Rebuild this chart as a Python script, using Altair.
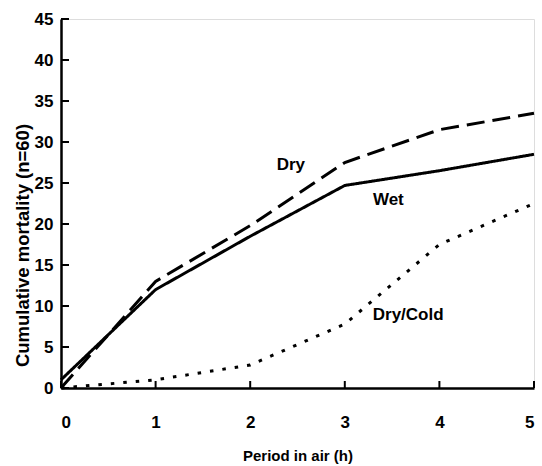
import altair as alt
import pandas as pd

# Hours out of water and cumulative deaths per treatment
hours = [0, 1, 2, 3, 4, 5]
wet = [1.0, 12.0, 18.5, 24.7, 26.5, 28.5]
dry = [0.0, 13.0, 19.8, 27.5, 31.5, 33.5]
dry_cold = [0.0, 1.0, 2.8, 7.8, 17.5, 22.5]

series_names = ["Wet", "Dry", "Dry/Cold"]
label_x = [3.46, 2.43, 3.67]
label_y = [22.9, 27.2, 8.9]

y_ticks = list(range(0, 46, 5))
x_ticks = hours

FONT = "Liberation Sans, Arial, sans-serif"
W, H = 473, 369

rows = []
for name, vals in zip(series_names, [wet, dry, dry_cold]):
    for h, v in zip(hours, vals):
        rows.append({"hours": h, "deaths": v, "series": name})
df = pd.DataFrame(rows)

labels = pd.DataFrame({"series": series_names, "x": label_x, "y": label_y})

xs = alt.Scale(domain=[0, 5], nice=False)
ys = alt.Scale(domain=[0, 45], nice=False)

x_axis = alt.Axis(
    values=x_ticks, format="d", ticks=False, grid=False, domainColor="black",
    domainWidth=2.5, labelFont=FONT, labelFontSize=17, labelFontWeight="bold",
    labelColor="black", labelPadding=26, title="Period in air (h)", titleFont=FONT,
    titleFontSize=15, titleFontWeight="bold", titleColor="black", titlePadding=18,
)
y_axis = alt.Axis(
    values=y_ticks, format="d", ticks=False, grid=False, domainColor="black",
    domainWidth=2.5, labelFont=FONT, labelFontSize=17, labelFontWeight="bold",
    labelColor="black", labelPadding=8, title="Cumulative mortality (n=60)",
    titleFont=FONT, titleFontSize=18.5, titleFontWeight="bold", titleColor="black",
    titleY=226, titlePadding=2,
)

lines = alt.Chart(df).mark_line(strokeWidth=3, color="black").encode(
    x=alt.X("hours:Q", scale=xs, axis=x_axis),
    y=alt.Y("deaths:Q", scale=ys, axis=y_axis),
    detail="series:N",
    strokeDash=alt.StrokeDash(
        "series:N",
        scale=alt.Scale(domain=series_names, range=[[1, 0], [18, 8], [3.5, 9]]),
        legend=None,
    ),
)

text = alt.Chart(labels).mark_text(
    font=FONT, fontSize=17, fontWeight="bold", color="black", align="center", baseline="middle"
).encode(
    x=alt.X("x:Q", scale=xs),
    y=alt.Y("y:Q", scale=ys),
    text="series:N",
)

# inward-pointing tick marks drawn from the tick value lists
ytick_df = pd.DataFrame({"v": y_ticks})
xtick_df = pd.DataFrame({"v": x_ticks})
yt = alt.Chart(ytick_df).mark_rule(color="black", strokeWidth=2).encode(
    y=alt.Y("v:Q", scale=ys), x=alt.value(0), x2=alt.value(8)
)
xt = alt.Chart(xtick_df).mark_rule(color="black", strokeWidth=2).encode(
    x=alt.X("v:Q", scale=xs), y=alt.value(H), y2=alt.value(H - 7)
)

chart = alt.layer(lines, text, yt, xt).properties(
    width=W, height=H,
    autosize=alt.AutoSizeParams(type="none"),
    padding={"left": 61, "top": 19, "right": 8, "bottom": 78},
).configure_view(stroke=None).configure(background="white")

chart.save("out.html", embed_options={"renderer": "svg", "actions": False})
